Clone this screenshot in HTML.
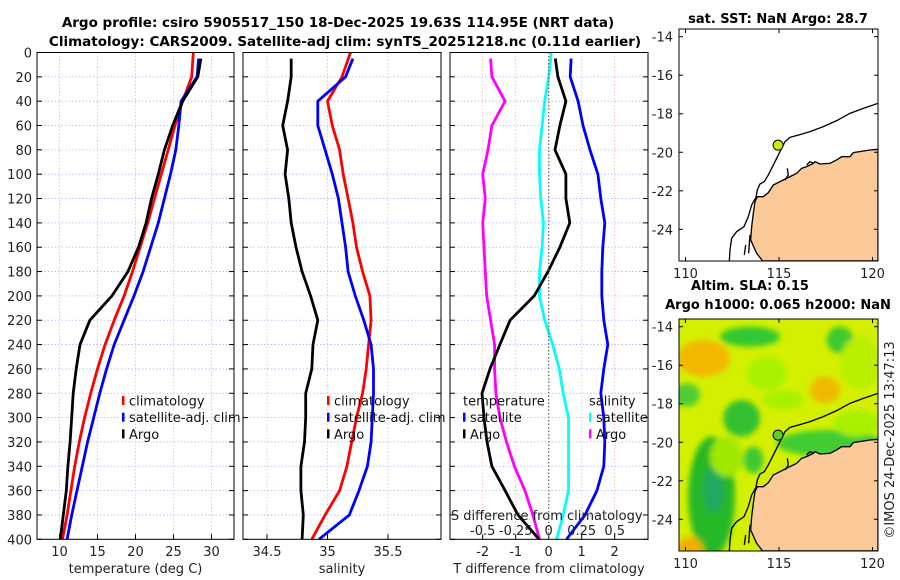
<!DOCTYPE html>
<html><head><meta charset="utf-8"><style>
body{margin:0;background:#fff;}
svg{display:block;font-family:"DejaVu Sans","Liberation Sans",sans-serif;}
</style></head><body>
<svg id="fig" width="900" height="580" viewBox="0 0 900 580">
<defs>
<filter id="blur" x="-20%" y="-20%" width="140%" height="140%"><feGaussianBlur stdDeviation="9"/></filter>
<clipPath id="clipTop"><rect x="679" y="29" width="199" height="232"/></clipPath>
<clipPath id="clipBot"><rect x="679" y="319" width="199" height="232"/></clipPath>
</defs>
<g id="titles">
<text x="338" y="27" text-anchor="middle" font-size="13.5" font-weight="bold">Argo profile: csiro 5905517_150 18-Dec-2025 19.63S 114.95E (NRT data)</text>
<text x="345" y="46" text-anchor="middle" font-size="13.5" font-weight="bold">Climatology: CARS2009. Satellite-adj clim: synTS_20251218.nc (0.11d earlier)</text>
</g>
<g id="panels"></g>
<g id="maps"></g>
<text transform="translate(894,440) rotate(-90)" text-anchor="middle" font-size="13" fill="#222">©IMOS 24-Dec-2025 13:47:13</text>
</svg>
<script>
const NS='http://www.w3.org/2000/svg';
function mk(tag,attrs,parent,txt){const e=document.createElementNS(NS,tag);for(const k in attrs)e.setAttribute(k,attrs[k]);if(txt!==undefined)e.textContent=txt;parent.appendChild(e);return e;}

// ---- data ----
const pres=[0,20,40,60,80,100,120,140,160,180,200,220,240,260,280,300,320,340,360,380,400];
const tempArgo=[28.6,28.2,26.2,24.9,23.8,23.0,22.1,21.4,20.4,19.0,16.9,14.0,12.7,12.2,11.8,11.6,11.4,11.1,10.9,10.5,10.1];
const tempClim=[27.6,27.4,26.2,25.2,24.3,23.4,22.5,21.6,20.6,19.6,18.5,17.2,16.0,15.0,14.1,13.3,12.6,12.0,11.5,11.0,10.4];
const tempSat=[28.3,28.1,26.0,25.7,25.3,24.6,23.8,23.0,22.0,21.0,19.8,18.5,17.2,16.2,15.3,14.5,13.7,13.0,12.3,11.6,11.0];
const salArgo=[34.70,34.70,34.67,34.63,34.67,34.65,34.68,34.70,34.74,34.79,34.86,34.92,34.88,34.87,34.82,34.82,34.81,34.78,34.78,34.80,34.79];
const salClim=[35.19,35.12,35.00,35.04,35.10,35.13,35.17,35.21,35.24,35.29,35.35,35.36,35.34,35.32,35.29,35.24,35.20,35.16,35.10,34.98,34.87];
const salSat=[35.21,35.15,34.92,34.92,34.98,35.04,35.09,35.12,35.15,35.17,35.23,35.30,35.36,35.38,35.38,35.37,35.36,35.33,35.26,35.18,34.93];
const dTArgo=[0.2,0.28,0.52,0.34,0.19,0.52,0.52,0.64,0.34,-0.02,-0.44,-1.17,-1.48,-1.78,-2.02,-1.96,-1.87,-1.72,-1.32,-0.93,-0.29];
const dTSat=[0.68,0.65,0.89,1.04,1.25,1.49,1.58,1.70,1.64,1.61,1.61,1.67,1.79,1.67,1.58,1.67,1.70,1.67,1.46,1.10,0.54];
const dSSat=[0.02,0.00,-0.03,-0.05,-0.07,-0.07,-0.06,-0.04,-0.05,-0.07,-0.07,-0.03,0.03,0.08,0.11,0.15,0.15,0.15,0.15,0.11,0.06];
const dSArgo=[-0.44,-0.43,-0.33,-0.43,-0.46,-0.50,-0.48,-0.50,-0.49,-0.48,-0.47,-0.44,-0.41,-0.41,-0.40,-0.37,-0.32,-0.26,-0.18,-0.12,-0.07];
const yTicks=[0,20,40,60,80,100,120,140,160,180,200,220,240,260,280,300,320,340,360,380,400];
const tTicks=[10,15,20,25,30];
const sTicks=[34.5,35,35.5];
const dTTicks=[-2,-1,0,1,2];
const dSTicks=[-0.5,-0.25,0,0.25,0.5];

const Y=p=>52.5+p*1.217;
const panelsG=document.getElementById('panels');
function panel(name,x0,x1,xfun,ticks,xlabel,series){
  const g=mk('g',{},panelsG);
  
  
  ticks.forEach(t=>{const l=mk('line',{x1:xfun(t),x2:xfun(t),y1:Y(0),y2:Y(400),stroke:'#f0b8a0','stroke-width':0.8,'stroke-dasharray':'1.5,2'},g);});
  yTicks.forEach(p=>{const l=mk('line',{x1:x0,x2:x1,y1:Y(p),y2:Y(p),stroke:'#b0b8f0','stroke-width':0.8,'stroke-dasharray':'1.5,2'},g);});
  series.forEach(s=>{
    const pts=s.v.map((v,i)=>s.f(v).toFixed(1)+','+Y(pres[i]+(i===0?s.p0:0)).toFixed(1)).join(' ');
    const pl=mk('polyline',{points:pts,fill:'none',stroke:s.c,'stroke-width':2.8,'stroke-linejoin':'round'},g);
    
    
  });
  const fr=mk('rect',{x:x0,y:Y(0),width:x1-x0,height:Y(400)-Y(0),fill:'none',stroke:'#000','stroke-width':1},g);
  
  yTicks.forEach(p=>{mk('line',{x1:x0,x2:x0+5,y1:Y(p),y2:Y(p),stroke:'#000'},g);mk('line',{x1:x1,x2:x1-5,y1:Y(p),y2:Y(p),stroke:'#000'},g);});
  ticks.forEach(t=>{mk('line',{x1:xfun(t),x2:xfun(t),y1:Y(400),y2:Y(400)-5,stroke:'#000'},g);
    const tl=mk('text',{x:xfun(t),y:556,'text-anchor':'middle','font-size':13,fill:'#222'},g,String(t));
    });
  const xl=mk('text',{x:(x0+x1)/2,y:573,'text-anchor':'middle','font-size':13,fill:'#222'},g,xlabel);
  
  return g;
}
const xT=t=>59.5+(t-10)*7.6;
const xS=s=>267+(s-34.5)*121;
const xdT=d=>548.7+d*33;
const xdS=d=>548.7+d*132;

yTicks.forEach(p=>{const t=mk('text',{x:32,y:Y(p)+5,'text-anchor':'end','font-size':13,fill:'#222'},panelsG,String(p));
  });

panel('temperature-panel',37,234,xT,tTicks,'temperature (deg C)',[
 {n:'temp-climatology-line',v:tempClim,f:xT,c:'#f00',p0:0},
 {n:'temp-satellite-line',v:tempSat,f:xT,c:'#00f',p0:5},
 {n:'temp-argo-line',v:tempArgo,f:xT,c:'#000',p0:5}]);
panel('salinity-panel',243,441,xS,sTicks,'salinity',[
 {n:'sal-climatology-line',v:salClim,f:xS,c:'#f00',p0:0},
 {n:'sal-satellite-line',v:salSat,f:xS,c:'#00f',p0:5},
 {n:'sal-argo-line',v:salArgo,f:xS,c:'#000',p0:5}]);
const p3=panel('difference-panel',450,648,xdT,dTTicks,'T difference from climatology',[
 {n:'dS-argo-line',v:dSArgo,f:xdS,c:'#f0f',p0:5},
 {n:'dS-satellite-line',v:dSSat,f:xdS,c:'#0ff',p0:0},
 {n:'dT-satellite-line',v:dTSat,f:xdT,c:'#00f',p0:5},
 {n:'dT-argo-line',v:dTArgo,f:xdT,c:'#000',p0:5}]);
const zl=mk('line',{x1:xdT(0),x2:xdT(0),y1:Y(0),y2:Y(400),stroke:'#666','stroke-dasharray':'1.5,2','stroke-width':1.2},p3);

const sdt=mk('text',{x:xdS(0)-2,y:520,'text-anchor':'middle','font-size':13,fill:'#222'},p3,'S difference from climatology');

dSTicks.forEach(t=>{const tl=mk('text',{x:xdS(t),y:535,'text-anchor':'middle','font-size':13,fill:'#222'},p3,String(t));
 });

function legend(x,y,items,name){
  const g=mk('g',{},panelsG);
  
  
  items.forEach((it,i)=>{const yy=y+i*16.7;
    if(it.c)mk('rect',{x:x,y:yy-5,width:2.5,height:9,fill:it.c},g);
    const t=mk('text',{x:x+(it.c?7:0),y:yy+4.5,'font-size':13,fill:'#111'},g,it.t);
    });
}
legend(122,401,[{c:'#f00',t:'climatology'},{c:'#00f',t:'satellite-adj. clim'},{c:'#000',t:'Argo'}],'temperature-legend');
legend(327,401,[{c:'#f00',t:'climatology'},{c:'#00f',t:'satellite-adj. clim'},{c:'#000',t:'Argo'}],'salinity-legend');
legend(463,401,[{c:null,t:'temperature'},{c:'#00f',t:'satellite'},{c:'#000',t:'Argo'}],'t-diff-legend');
legend(589,401,[{c:null,t:'salinity'},{c:'#0ff',t:'satellite'},{c:'#f0f',t:'Argo'}],'s-diff-legend');

// ---- maps ----
const mapsG=document.getElementById('maps');
const lonTicks=[110,115,120];
const latTicks=[-14,-16,-18,-20,-22,-24];
const MX=lon=>779+(lon-115)*18.7;
const MY=(lat,off)=>36.7+(-14-lat)*19.26+off;
const landPts="684,448 660,450 610,458 600,470 575,470 560,480 540,490 510,492 495,485 490,490 470,500 455,505 440,520 420,530 410,535 390,545 370,555 355,578 340,590 322,590 315,605 310,640 305,680 302,720 320,760 338,783 684,783";
const shelfPts="684,310 640,325 600,340 560,362 520,380 480,395 450,404 420,412 405,425 395,445 385,465 375,485 365,505 355,525 343,545 330,552 322,570 318,592 305,615 295,650 282,680 260,695 245,715 240,750 238,783";
function map(off,name,title1,title2,sla){
  const g=mk('g',{},mapsG);
  
  
  const cg=mk('g',{'clip-path':'url(#'+(off?'clipBot':'clipTop')+')'},g);
  if(sla){
    mk('rect',{x:679,y:319,width:199,height:232,fill:'#d4f000'},cg);
    const bg=mk('g',{filter:'url(#blur)',transform:'translate(650,'+off+') scale(0.3333)'},cg);
    const blobs=[[300,140,90,30,'#30c830'],[570,150,40,40,'#40c830'],[160,205,80,55,'#f2b800'],[525,300,45,40,'#f0b800'],[110,315,40,35,'#50cc30'],[275,385,55,55,'#30c030'],[185,620,70,180,'#28b828'],[190,600,30,70,'#20a860'],[310,510,30,40,'#40c830'],[540,460,160,40,'#40cc30'],[120,780,40,40,'#f0b000'],[350,250,60,50,'#a8f000'],[630,220,60,80,'#b8f000'],[400,330,60,30,'#a8f000'],[420,700,80,80,'#e8f000'],[230,500,50,60,'#a0e800'],[620,400,70,40,'#a8f000']];
    blobs.forEach(b=>mk('ellipse',{cx:b[0],cy:b[1],rx:b[2],ry:b[3],fill:b[4]},bg));
  }
  const lg=mk('g',{transform:'translate(650,'+off+') scale(0.3333)'},cg);
  const land=mk('polygon',{points:landPts,fill:'#fbca98',stroke:'#000','stroke-width':4},lg);
  
  const shelf=mk('polyline',{points:shelfPts,fill:'none',stroke:'#000','stroke-width':4},lg);
  
  mk('polyline',{points:'300,705 296,760',fill:'none',stroke:'#000','stroke-width':4},lg);
  mk('polyline',{points:'287,735 283,765',fill:'none',stroke:'#000','stroke-width':4},lg);
  mk('polyline',{points:'405,540 415,525 412,505',fill:'none',stroke:'#000','stroke-width':4},lg);
  mk('polyline',{points:'470,495 480,485 492,490',fill:'none',stroke:'#000','stroke-width':4},lg);
  const fr=mk('rect',{x:679,y:29+off,width:199,height:232,fill:'none',stroke:'#000'},g);
  
  const pt=mk('circle',{cx:MX(114.95),cy:MY(-19.63,off),r:5,fill:sla?'#60d020':'#c8f000',stroke:'#000','stroke-width':1},g);
  
  lonTicks.forEach(l=>{mk('line',{x1:MX(l),x2:MX(l),y1:29+off,y2:33+off,stroke:'#000'},g);mk('line',{x1:MX(l),x2:MX(l),y1:261+off,y2:257+off,stroke:'#000'},g);
    const t=mk('text',{x:MX(l),y:278+off,'text-anchor':'middle','font-size':13,fill:'#222'},g,String(l));
    });
  latTicks.forEach(l=>{mk('line',{x1:679,x2:683,y1:MY(l,off),y2:MY(l,off),stroke:'#000'},g);mk('line',{x1:878,x2:874,y1:MY(l,off),y2:MY(l,off),stroke:'#000'},g);
    const t=mk('text',{x:673,y:MY(l,off)+5,'text-anchor':'end','font-size':13,fill:'#222'},g,String(l));
    });
  if(title2){
    const a=mk('text',{x:750,y:off+0,'text-anchor':'middle','font-size':13,'font-weight':'bold'},g,title1);
    
    const b=mk('text',{x:778,y:off+19,'text-anchor':'middle','font-size':13,'font-weight':'bold'},g,title2);
    
  } else {
    const a=mk('text',{x:778,y:23,'text-anchor':'middle','font-size':13,'font-weight':'bold'},g,title1);
    
  }
}
map(0,'sst-map','sat. SST: NaN Argo: 28.7',null,false);
map(290,'sla-map','Altim. SLA: 0.15','Argo h1000: 0.065 h2000: NaN',true);
</script>
</body></html>
